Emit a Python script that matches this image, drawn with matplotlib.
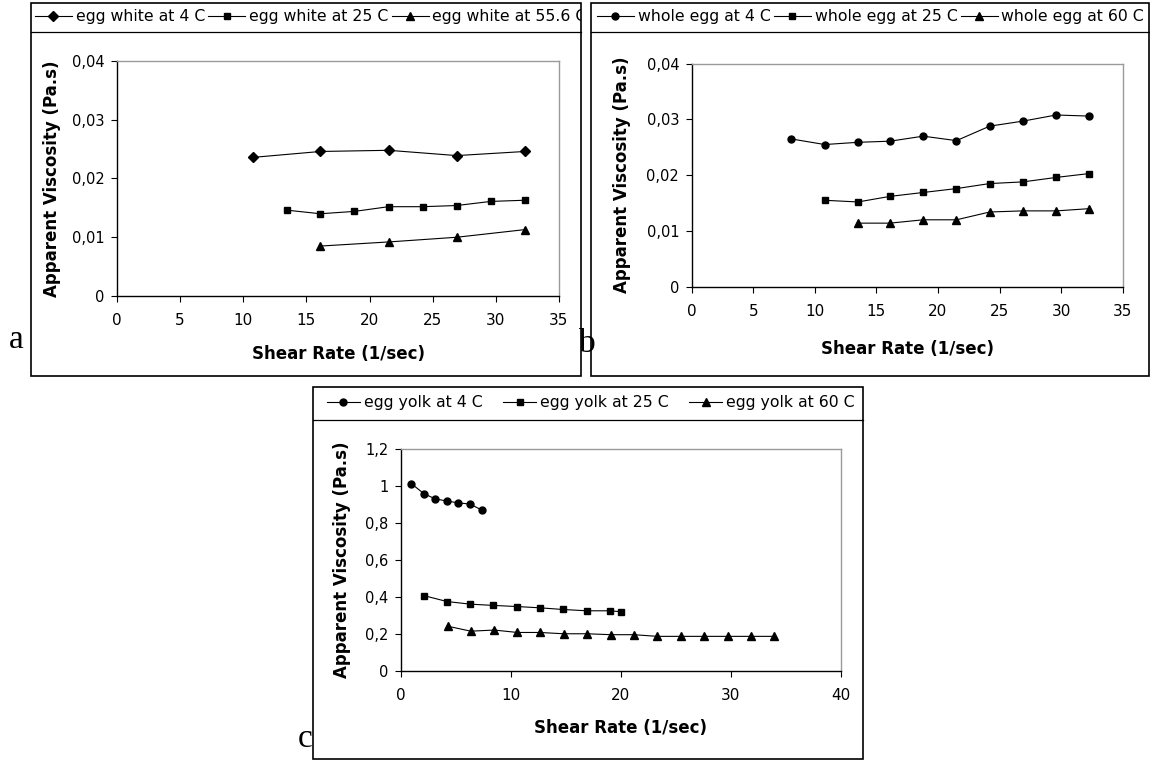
import matplotlib
matplotlib.use("Agg")
import matplotlib.pyplot as plt
from matplotlib.ticker import FuncFormatter, MultipleLocator
from matplotlib.patches import Rectangle
from matplotlib.lines import Line2D
from matplotlib.transforms import Bbox, TransformedBbox

# ---------------- data ----------------
# panel a: egg white
shear_a_4 = [10.8, 16.1, 21.5, 26.9, 32.3]
visc_a_4 = [0.0236, 0.0246, 0.0248, 0.0239, 0.0246]
shear_a_25 = [13.5, 16.1, 18.8, 21.5, 24.2, 26.9, 29.6, 32.3]
visc_a_25 = [0.0146, 0.0140, 0.0144, 0.0152, 0.0152, 0.0154, 0.0161, 0.0163]
shear_a_55 = [16.1, 21.5, 26.9, 32.3]
visc_a_55 = [0.0085, 0.0092, 0.0100, 0.0113]
labels_a = ["egg white at 4 C", "egg white at 25 C", "egg white at 55.6 C"]

# panel b: whole egg
shear_b_4 = [8.1, 10.8, 13.5, 16.1, 18.8, 21.5, 24.2, 26.9, 29.6, 32.3]
visc_b_4 = [0.0265, 0.0255, 0.0259, 0.0261, 0.0270, 0.0262, 0.0288, 0.0297, 0.0308, 0.0306]
shear_b_25 = [10.8, 13.5, 16.1, 18.8, 21.5, 24.2, 26.9, 29.6, 32.3]
visc_b_25 = [0.0155, 0.0152, 0.0162, 0.0169, 0.0176, 0.0185, 0.0188, 0.0196, 0.0203]
shear_b_60 = [13.5, 16.1, 18.8, 21.5, 24.2, 26.9, 29.6, 32.3]
visc_b_60 = [0.0114, 0.0114, 0.0120, 0.0120, 0.0134, 0.0136, 0.0136, 0.0140]
labels_b = ["whole egg at 4 C", "whole egg at 25 C", "whole egg at 60 C"]

# panel c: egg yolk
shear_c_4 = [0.95, 2.1, 3.1, 4.2, 5.2, 6.3, 7.35]
visc_c_4 = [1.012, 0.957, 0.930, 0.917, 0.908, 0.901, 0.869]
shear_c_25 = [2.1, 4.2, 6.3, 8.4, 10.55, 12.65, 14.75, 16.9, 19.0, 20.0]
visc_c_25 = [0.407, 0.375, 0.361, 0.354, 0.348, 0.341, 0.332, 0.325, 0.325, 0.320]
shear_c_60 = [4.25, 6.35, 8.5, 10.6, 12.65, 14.8, 16.9, 19.1, 21.2, 23.3, 25.5, 27.55, 29.7, 31.8, 33.9]
visc_c_60 = [0.242, 0.215, 0.221, 0.208, 0.208, 0.201, 0.201, 0.196, 0.196, 0.187,
             0.187, 0.187, 0.187, 0.187, 0.187]
labels_c = ["egg yolk at 4 C", "egg yolk at 25 C", "egg yolk at 60 C"]

xlabel = "Shear Rate (1/sec)"
ylabel = "Apparent Viscosity (Pa.s)"

# ---------------- layout helpers ----------------
W, H = 1150, 763
plt.rcParams['font.family'] = ['DejaVu Sans']
fig = plt.figure(figsize=(W / 100, H / 100), dpi=100)


def frect(x0, y0, x1, y1):
    return [x0 / W, 1 - y1 / H, (x1 - x0) / W, (y1 - y0) / H]


def comma(v, pos):
    return f"{round(v, 6):g}".replace('.', ',')


def style_axes(ax, xmax, xstep, ymax, ystep, tick_fs_x, tick_fs_y):
    ax.set_xlim(0, xmax)
    ax.set_ylim(0, ymax)
    ax.xaxis.set_major_locator(MultipleLocator(xstep))
    ax.yaxis.set_major_locator(MultipleLocator(ystep))
    ax.xaxis.set_major_formatter(FuncFormatter(comma))
    ax.yaxis.set_major_formatter(FuncFormatter(comma))
    for s in ['left', 'bottom']:
        ax.spines[s].set_color('black')
        ax.spines[s].set_linewidth(1.0)
    for s in ['top', 'right']:
        ax.spines[s].set_color('#9a9a9a')
        ax.spines[s].set_linewidth(1.0)
    ax.tick_params(axis='both', direction='out', length=4, width=0.8, color='black')
    ax.tick_params(axis='x', labelsize=tick_fs_x, pad=8.5)
    ax.tick_params(axis='y', labelsize=tick_fs_y, pad=5)


def panel_box(x0, y0, x1, y1, ysep):
    fig.patches.append(Rectangle((x0 / W, 1 - y1 / H), (x1 - x0) / W, (y1 - y0) / H,
                                 transform=fig.transFigure, fill=False,
                                 edgecolor='black', linewidth=1.2))
    fig.lines.append(Line2D([x0 / W, x1 / W], [1 - ysep / H, 1 - ysep / H],
                            transform=fig.transFigure, color='black', linewidth=0.9))


def panel_legend(handles, labels, x, yc, clip, hl, colsp):
    leg = fig.legend(handles, labels, loc='center left',
                     bbox_to_anchor=(x / W, 1 - yc / H), bbox_transform=fig.transFigure,
                     ncol=3, frameon=False, borderpad=0, borderaxespad=0,
                     handlelength=hl, handletextpad=0.25, columnspacing=colsp,
                     fontsize=11.3, numpoints=1)
    cb = TransformedBbox(Bbox.from_extents(clip[0] / W, 1 - clip[3] / H,
                                           clip[2] / W, 1 - clip[1] / H), fig.transFigure)
    for t in leg.get_texts():
        t.set_clip_box(cb)
        t.set_clip_on(True)
    return leg


line_kw = dict(color='black', linewidth=0.8)

# ---------------- panel a ----------------
panel_box(30.5, 2.5, 581, 375.5, 32)
axa = fig.add_axes(frect(117, 61, 559, 296))
ha1, = axa.plot(shear_a_4, visc_a_4, marker='D', markersize=4.6, **line_kw)
ha2, = axa.plot(shear_a_25, visc_a_25, marker='s', markersize=5.0, **line_kw)
ha3, = axa.plot(shear_a_55, visc_a_55, marker='^', markersize=6.0, **line_kw)
style_axes(axa, 35, 5, 0.04, 0.01, 11, 10.5)
axa.set_xlabel(xlabel, fontsize=12, fontweight='bold')
axa.set_ylabel(ylabel, fontsize=12, fontweight='bold')
axa.xaxis.set_label_coords(0.5, (296 - 354) / 235)
axa.xaxis.label.set_verticalalignment('center')
axa.yaxis.set_label_coords((52 - 117) / 442, 0.5)
axa.yaxis.label.set_verticalalignment('center')
panel_legend([ha1, ha2, ha3], labels_a, 35, 17, (30.5, 2.5, 580.5, 32), 2.35, 0.2)
fig.text(9.3 / W, 1 - 348 / H, 'a', family='Liberation Serif', fontsize=24, va='baseline')

# ---------------- panel b ----------------
panel_box(591, 2.5, 1148.5, 375.5, 32)
axb = fig.add_axes(frect(691.7, 63.7, 1122.7, 286.7))
hb1, = axb.plot(shear_b_4, visc_b_4, marker='o', markersize=5.0, **line_kw)
hb2, = axb.plot(shear_b_25, visc_b_25, marker='s', markersize=5.0, **line_kw)
hb3, = axb.plot(shear_b_60, visc_b_60, marker='^', markersize=6.0, **line_kw)
style_axes(axb, 35, 5, 0.04, 0.01, 11, 10.5)
axb.set_xlabel(xlabel, fontsize=12, fontweight='bold')
axb.set_ylabel(ylabel, fontsize=12, fontweight='bold')
axb.xaxis.set_label_coords(0.5, (286.7 - 349) / 223)
axb.xaxis.label.set_verticalalignment('center')
axb.yaxis.set_label_coords((622 - 691.7) / 431, 0.5)
axb.yaxis.label.set_verticalalignment('center')
panel_legend([hb1, hb2, hb3], labels_b, 597, 17, (591, 2.5, 1148, 32), 2.35, 0.2)
fig.text(579 / W, 1 - 352 / H, 'b', family='Liberation Serif', fontsize=24, va='baseline')

# ---------------- panel c ----------------
panel_box(312.7, 387, 863, 759, 419.5)
axc = fig.add_axes(frect(400.8, 448.7, 840.9, 671))
hc1, = axc.plot(shear_c_4, visc_c_4, marker='o', markersize=5.0, **line_kw)
hc2, = axc.plot(shear_c_25, visc_c_25, marker='s', markersize=5.0, **line_kw)
hc3, = axc.plot(shear_c_60, visc_c_60, marker='^', markersize=6.0, **line_kw)
style_axes(axc, 40, 10, 1.2, 0.2, 11, 10.5)
axc.set_xlabel(xlabel, fontsize=12, fontweight='bold')
axc.set_ylabel(ylabel, fontsize=12, fontweight='bold')
axc.xaxis.set_label_coords(0.5, (671 - 728) / 222.3)
axc.xaxis.label.set_verticalalignment('center')
axc.yaxis.set_label_coords((341.7 - 400.8) / 440.1, 0.5)
axc.yaxis.label.set_verticalalignment('center')
panel_legend([hc1, hc2, hc3], labels_c, 327, 403, (312.7, 387, 863, 419.5), 2.1, 1.3)
fig.text(297.7 / W, 1 - 747 / H, 'c', family='Liberation Serif', fontsize=24, va='baseline')

fig.savefig('out.png', dpi=100)
